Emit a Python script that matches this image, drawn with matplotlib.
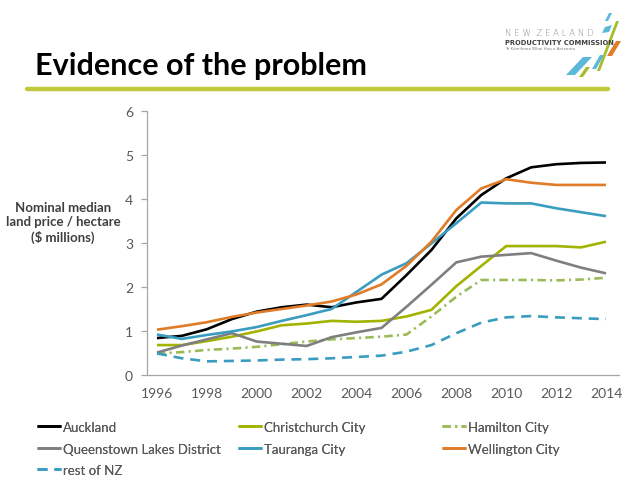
import matplotlib
matplotlib.use("Agg")
import matplotlib.pyplot as plt
from matplotlib.patches import Polygon
from matplotlib.lines import Line2D

plt.rcParams['font.family'] = ['Lato', 'DejaVu Sans']

years = list(range(1996, 2015))
auckland = [0.84, 0.89, 1.04, 1.27, 1.44, 1.54, 1.60, 1.54, 1.65, 1.73, 2.27, 2.84, 3.56, 4.09, 4.47, 4.72, 4.79, 4.82, 4.83]
christchurch = [0.68, 0.68, 0.77, 0.87, 0.99, 1.13, 1.17, 1.23, 1.21, 1.23, 1.33, 1.48, 2.02, 2.48, 2.93, 2.93, 2.93, 2.90, 3.03]
hamilton = [0.49, 0.52, 0.57, 0.60, 0.64, 0.70, 0.76, 0.81, 0.84, 0.87, 0.92, 1.33, 1.78, 2.16, 2.16, 2.16, 2.15, 2.17, 2.21]
queenstown = [0.51, 0.67, 0.81, 0.95, 0.76, 0.71, 0.66, 0.86, 0.97, 1.07, 1.55, 2.05, 2.56, 2.69, 2.73, 2.77, 2.60, 2.44, 2.31]
tauranga = [0.92, 0.82, 0.91, 0.99, 1.09, 1.23, 1.36, 1.50, 1.89, 2.28, 2.54, 2.99, 3.45, 3.92, 3.90, 3.90, 3.79, 3.70, 3.61]
wellington = [1.03, 1.11, 1.20, 1.32, 1.42, 1.50, 1.58, 1.67, 1.83, 2.06, 2.48, 3.03, 3.75, 4.24, 4.45, 4.37, 4.32, 4.32, 4.32]
rest_nz = [0.49, 0.38, 0.31, 0.32, 0.33, 0.35, 0.36, 0.38, 0.41, 0.44, 0.53, 0.68, 0.95, 1.19, 1.31, 1.34, 1.31, 1.29, 1.27]

series_names = ["Auckland", "Christchurch City", "Hamilton City",
                "Queenstown Lakes District", "Tauranga City", "Wellington City", "rest of NZ"]
xticks = [1996, 1998, 2000, 2002, 2004, 2006, 2008, 2010, 2012, 2014]
yticks = [0, 1, 2, 3, 4, 5, 6]

W, H = 640, 481
fig = plt.figure(figsize=(6.4, 4.81), dpi=100)
fig.patch.set_facecolor('white')

ax = fig.add_axes([147 / W, 1 - 376 / H, (619 - 147) / W, (376 - 112) / H])

lw = 1.9
styles = {
    "Auckland": dict(color="#000000", lw=lw),
    "Christchurch City": dict(color="#A2B300", lw=lw),
    "Hamilton City": dict(color="#9BBB59", lw=lw, dashes=[3.2, 1.6, 0.8, 1.6]),
    "Queenstown Lakes District": dict(color="#7F7F7F", lw=lw),
    "Tauranga City": dict(color="#3A9DC0", lw=lw),
    "Wellington City": dict(color="#E07B28", lw=lw),
    "rest of NZ": dict(color="#3A9DC0", lw=lw, dashes=[3.8, 2.6]),
}
data = {
    "Auckland": auckland, "Christchurch City": christchurch, "Hamilton City": hamilton,
    "Queenstown Lakes District": queenstown, "Tauranga City": tauranga,
    "Wellington City": wellington, "rest of NZ": rest_nz,
}
handles = {}
for name in series_names:
    (ln,) = ax.plot(years, data[name], label=name, solid_capstyle='butt', **styles[name])
    handles[name] = ln

ax.set_xlim(1995.6, 2014.52)
ax.set_ylim(0, 6)
ax.set_xticks(xticks)
ax.set_yticks(yticks)
for s in ['top', 'right']:
    ax.spines[s].set_visible(False)
for s in ['left', 'bottom']:
    ax.spines[s].set_color('#A6A6A6')
    ax.spines[s].set_linewidth(0.9)
ax.tick_params(axis='y', length=4, width=0.9, color='#A6A6A6', labelcolor='#595959',
               labelsize=10, pad=6)
ax.tick_params(axis='x', length=0, labelcolor='#595959', labelsize=10, pad=9)

# y label
fig.text(63 / W, 1 - 223 / H, "Nominal median\nland price / hectare\n($ millions)",
         ha='center', va='center', multialignment='center', fontsize=9.5,
         fontweight='bold', color='#3F3F3F', linespacing=1.25)

# title
fig.text(35 / W, 1 - 75 / H, "Evidence of the problem", ha='left', va='baseline',
         fontsize=22, fontweight='bold', color='#000000')

# green rule
fig.add_artist(Line2D([27 / W, 608 / W], [1 - 90 / H, 1 - 90 / H], color='#BFCA3A',
                      lw=3.2, solid_capstyle='round', transform=fig.transFigure))

# logo text
fig.text(505 / W, 1 - 34 / H, "N E W  Z E A L A N D", fontsize=6.2, color='#8C8C8C',
         ha='left', va='center', family=['DejaVu Sans'], fontweight='light')
fig.text(505 / W, 1 - 43 / H, "PRODUCTIVITY COMMISSION", fontsize=4.9, color='#404040',
         ha='left', va='center', fontweight='bold', family=['DejaVu Sans'])
fig.text(505 / W, 1 - 49 / H, "Te Kōmihana Whai Hua o Aotearoa", fontsize=2.9,
         color='#808080', ha='left', va='center', family=['DejaVu Sans'])

def para(pts, color):
    fig.add_artist(Polygon([(x / W, 1 - y / H) for x, y in pts], closed=True,
                           transform=fig.transFigure, facecolor=color, edgecolor='none'))

para([(609, 14), (612, 14), (608, 22), (605, 22)], '#5BB8D8')
para([(605, 28), (612, 26), (609, 33), (602, 34)], '#5BB8D8')
para([(616, 22), (619, 22), (600, 72), (597, 72)], '#A5BE2A')
para([(616, 42), (621, 42), (612, 57), (607, 57)], '#E07B28')
para([(583, 58), (592, 58), (575, 76), (566, 76)], '#5BB8D8')
para([(586, 68), (590, 68), (583, 78), (579, 78)], '#A5BE2A')
para([(600, 56), (604, 56), (596, 70), (592, 70)], '#5BB8D8')

# legends (row-wise order as in the reference)
cols = [
    (37, ["Auckland", "Queenstown Lakes District", "rest of NZ"]),
    (238, ["Christchurch City", "Tauranga City"]),
    (442, ["Hamilton City", "Wellington City"]),
]
for x0, names in cols:
    leg = fig.legend([handles[n] for n in names], names, loc='upper left',
                     bbox_to_anchor=(x0 / W, 1 - 422 / H), frameon=False,
                     fontsize=9.5, handlelength=1.85, handletextpad=0.12,
                     borderpad=0, borderaxespad=0, labelspacing=0.72,
                     labelcolor='#595959')
    fig.add_artist(leg)

fig.savefig("out.png", dpi=100, facecolor='white')
